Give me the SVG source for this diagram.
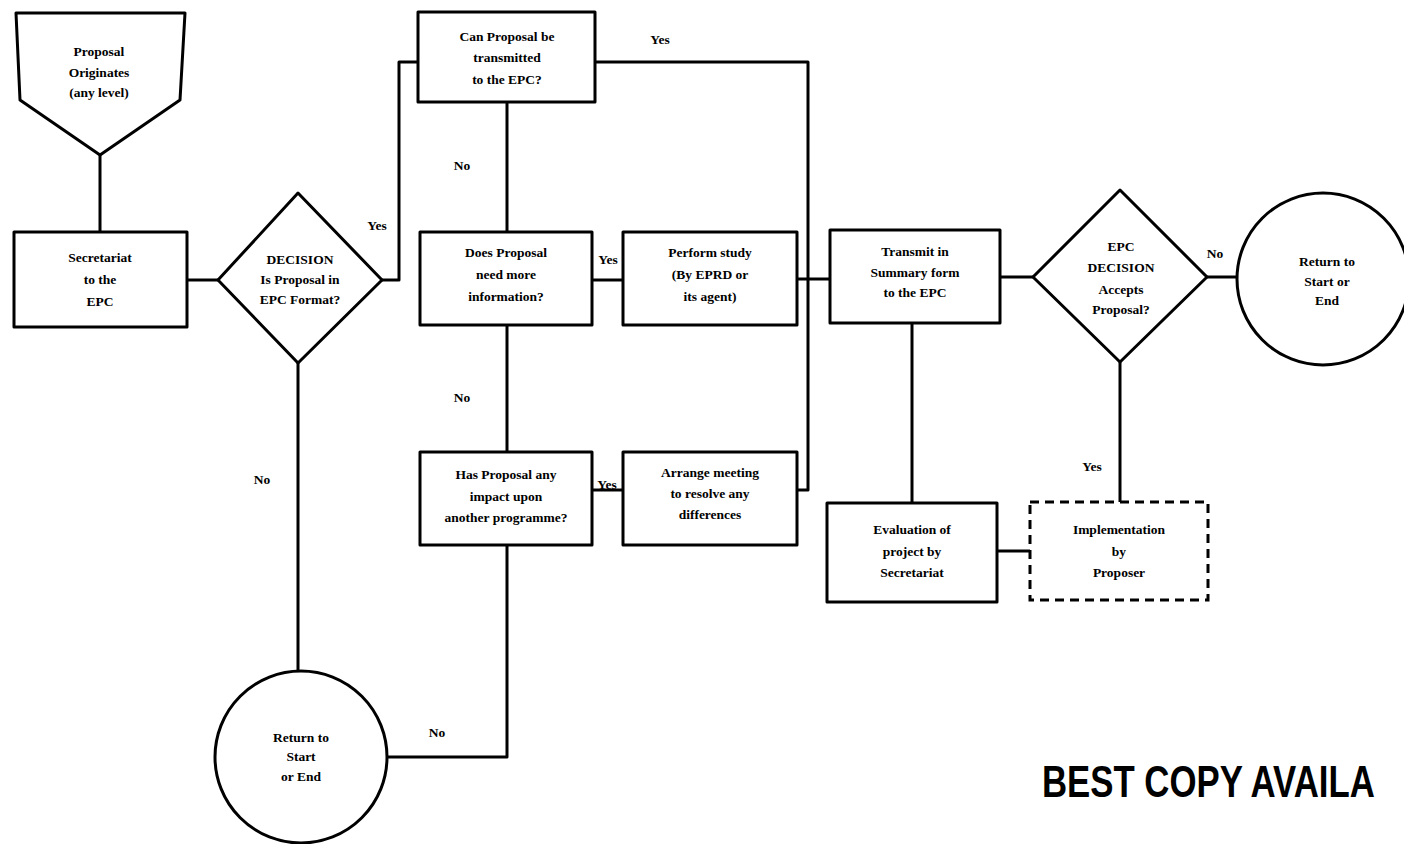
<svg xmlns="http://www.w3.org/2000/svg" width="1404" height="844" viewBox="0 0 1404 844">
<style>
.s{fill:#fff;stroke:#000;stroke-width:3;stroke-linejoin:round}
.d{fill:#fff;stroke:#000;stroke-width:3;stroke-dasharray:9 6}
.c{fill:none;stroke:#000;stroke-width:3;stroke-linejoin:round}
text{font-family:"Liberation Serif","Times New Roman",serif;font-weight:bold;font-size:13.5px;fill:#000;text-anchor:middle}
.l{font-size:13.5px}
.big{font-family:"Liberation Sans","DejaVu Sans",sans-serif;font-size:44px;text-anchor:start}
</style>
<rect width="1404" height="844" fill="#fff"/>
<g id="connectors">
<path class="c" d="M100,155V232"/>
<path class="c" d="M187,280H218"/>
<path class="c" d="M382,280H399V62H418"/>
<path class="c" d="M298,363V671"/>
<path class="c" d="M387,757H507V545"/>
<path class="c" d="M595,62H808V490H797"/>
<path class="c" d="M797,279H830"/>
<path class="c" d="M507,102V232"/>
<path class="c" d="M592,280H623"/>
<path class="c" d="M507,325V452"/>
<path class="c" d="M592,490H623"/>
<path class="c" d="M1000,277H1033"/>
<path class="c" d="M1207,277H1237"/>
<path class="c" d="M1120,362V502"/>
<path class="c" d="M912,323V503"/>
<path class="c" d="M997,551H1030"/>
<text class="l" x="377" y="230">Yes</text>
<text class="l" x="262" y="484">No</text>
<text class="l" x="437" y="737">No</text>
<text class="l" x="660" y="44">Yes</text>
<text class="l" x="462" y="170">No</text>
<text class="l" x="462" y="402">No</text>
<text class="l" x="608" y="264">Yes</text>
<text class="l" x="607" y="489">Yes</text>
<text class="l" x="1215" y="258">No</text>
<text class="l" x="1092" y="471">Yes</text>
</g>
<g id="originates">
<polygon class="s" points="16,13 185,13 180,100 100,155 20,100"/>
<text x="99" y="56">Proposal</text>
<text x="99" y="77">Originates</text>
<text x="99" y="97">(any level)</text>
</g>
<g id="secretariat">
<rect class="s" x="14" y="232" width="173" height="95"/>
<text x="100" y="262">Secretariat</text>
<text x="100" y="284">to the</text>
<text x="100" y="306">EPC</text>
</g>
<g id="decision-format">
<polygon class="s" points="298,193 382,280 298,363 218,280"/>
<text x="300" y="264">DECISION</text>
<text x="300" y="284">Is Proposal in</text>
<text x="300" y="304">EPC Format?</text>
</g>
<g id="return1">
<circle class="s" cx="301" cy="757" r="86"/>
<text x="301" y="742">Return to</text>
<text x="301" y="761">Start</text>
<text x="301" y="781">or End</text>
</g>
<g id="can-transmit">
<rect class="s" x="418" y="12" width="177" height="90"/>
<text x="507" y="41">Can Proposal be</text>
<text x="507" y="62">transmitted</text>
<text x="507" y="84">to the EPC?</text>
</g>
<g id="more-info">
<rect class="s" x="420" y="232" width="172" height="93"/>
<text x="506" y="257">Does Proposal</text>
<text x="506" y="279">need more</text>
<text x="506" y="301">information?</text>
</g>
<g id="perform-study">
<rect class="s" x="623" y="232" width="174" height="93"/>
<text x="710" y="257">Perform study</text>
<text x="710" y="279">(By EPRD or</text>
<text x="710" y="301">its agent)</text>
</g>
<g id="impact">
<rect class="s" x="420" y="452" width="172" height="93"/>
<text x="506" y="479">Has Proposal any</text>
<text x="506" y="501">impact upon</text>
<text x="506" y="522">another programme?</text>
</g>
<g id="arrange-meeting">
<rect class="s" x="623" y="452" width="174" height="93"/>
<text x="710" y="477">Arrange meeting</text>
<text x="710" y="498">to resolve any</text>
<text x="710" y="519">differences</text>
</g>
<g id="transmit">
<rect class="s" x="830" y="230" width="170" height="93"/>
<text x="915" y="256">Transmit in</text>
<text x="915" y="277">Summary form</text>
<text x="915" y="297">to the EPC</text>
</g>
<g id="epc-decision">
<polygon class="s" points="1120,190 1207,277 1120,362 1033,277"/>
<text x="1121" y="251">EPC</text>
<text x="1121" y="272">DECISION</text>
<text x="1121" y="294">Accepts</text>
<text x="1121" y="314">Proposal?</text>
</g>
<g id="return2">
<circle class="s" cx="1323" cy="279" r="86"/>
<text x="1327" y="266">Return to</text>
<text x="1327" y="286">Start or</text>
<text x="1327" y="305">End</text>
</g>
<g id="evaluation">
<rect class="s" x="827" y="503" width="170" height="99"/>
<text x="912" y="534">Evaluation of</text>
<text x="912" y="556">project by</text>
<text x="912" y="577">Secretariat</text>
</g>
<g id="implementation">
<rect class="d" x="1030" y="502" width="178" height="98"/>
<text x="1119" y="534">Implementation</text>
<text x="1119" y="556">by</text>
<text x="1119" y="577">Proposer</text>
</g>
<text class="big" transform="translate(1042,797) scale(0.79,1)" x="0" y="0">BEST COPY AVAILA</text>
</svg>
